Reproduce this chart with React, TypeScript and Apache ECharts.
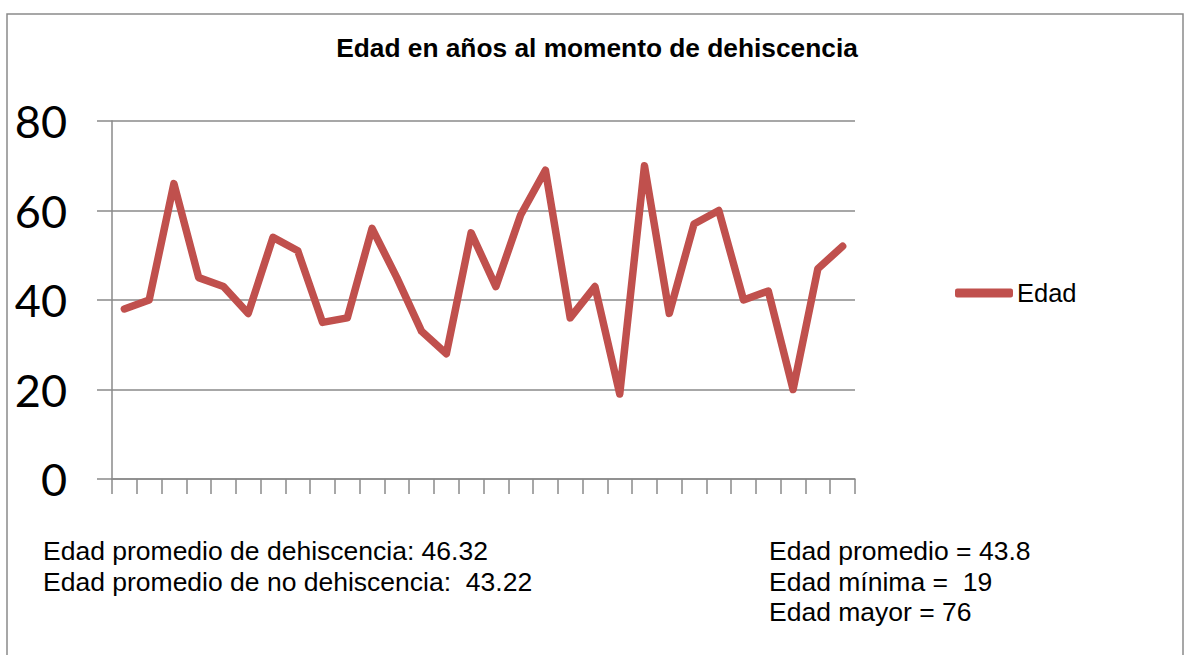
import React, { useEffect, useRef } from "react";
import * as echarts from "echarts";

const categories = Array.from({ length: 30 }, (_, i) => String(i + 1));
const edad = [38, 40, 66, 45, 43, 37, 54, 51, 35, 36, 56, 45, 33, 28, 55, 43, 59, 69, 36, 43, 19, 70, 37, 57, 60, 40, 42, 20, 47, 52];
const yTicks = { min: 0, max: 80, interval: 20 };
const titleText = "Edad en años al momento de dehiscencia";
const notesLeft = ["Edad promedio de dehiscencia: 46.32", "Edad promedio de no dehiscencia:  43.22"];
const notesRight = ["Edad promedio = 43.8", "Edad mínima =  19", "Edad mayor = 76"];

const GRAY = "#8a8a8a";
const RED = "#C0504D";
const FONT = "'Liberation Sans', Arial, sans-serif";

export default function App() {
  const ref = useRef<HTMLDivElement>(null);
  useEffect(() => {
    if (!ref.current) return;
    const chart = echarts.init(ref.current, null, { renderer: "svg" });
    const graphics: any[] = [
      {
        type: "rect",
        shape: { x: 7, y: 14, width: 1176, height: 660 },
        style: { fill: "none", stroke: GRAY, lineWidth: 1.5 },
        silent: true,
      },
      {
        type: "text",
        x: 597,
        y: 48,
        style: {
          text: titleText,
          fontFamily: FONT,
          fontSize: 26.3,
          fontWeight: "bold",
          fill: "#000",
          align: "center",
          verticalAlign: "middle",
        },
      },
    ];
    notesLeft.forEach((t, i) => {
      graphics.push({
        type: "text",
        x: 43,
        y: 551 + i * 31,
        style: { text: t, fontFamily: FONT, fontSize: 26.5, fill: "#000", verticalAlign: "middle", align: "left" },
      });
    });
    notesRight.forEach((t, i) => {
      graphics.push({
        type: "text",
        x: 769,
        y: 551 + i * 30.5,
        style: { text: t, fontFamily: FONT, fontSize: 26.5, fill: "#000", verticalAlign: "middle", align: "left" },
      });
    });
    chart.setOption({
      animation: false,
      backgroundColor: "#fff",
      legend: {
        data: ["Edad"],
        left: 955,
        top: 280,
        padding: 0,
        icon: "roundRect",
        itemWidth: 58,
        itemHeight: 9,
        itemGap: 4,
        textStyle: { fontFamily: FONT, fontSize: 25.5, color: "#000", padding: [0, 0, 0, -1] },
      },
      grid: { left: 112, right: 332, top: 121, bottom: 176, containLabel: false },
      xAxis: {
        type: "category",
        data: categories,
        boundaryGap: true,
        axisLine: { show: true, lineStyle: { color: GRAY, width: 1.5 } },
        axisTick: { show: true, interval: 0, length: 15, inside: false, lineStyle: { color: GRAY, width: 1.5 } },
        axisLabel: { show: false },
        splitLine: { show: false },
      },
      yAxis: {
        type: "value",
        min: yTicks.min,
        max: yTicks.max,
        interval: yTicks.interval,
        axisLine: { show: true, lineStyle: { color: GRAY, width: 1.5 } },
        axisTick: { show: true, length: 15, inside: false, lineStyle: { color: GRAY, width: 1.5 } },
        axisLabel: { margin: 45, fontFamily: "Lato, 'Open Sans', sans-serif", fontSize: 45, color: "#000" },
        splitLine: { show: true, lineStyle: { color: GRAY, width: 1.5 } },
      },
      series: [
        {
          name: "Edad",
          type: "line",
          data: edad,
          symbol: "none",
          color: RED,
          lineStyle: { color: RED, width: 7.5, cap: "round", join: "round" },
          itemStyle: { color: RED },
        },
      ],
      graphic: graphics,
    });
    return () => chart.dispose();
  }, []);
  return <div ref={ref} style={{ position: "absolute", left: 0, top: 0, width: 1187, height: 655 }} />;
}
